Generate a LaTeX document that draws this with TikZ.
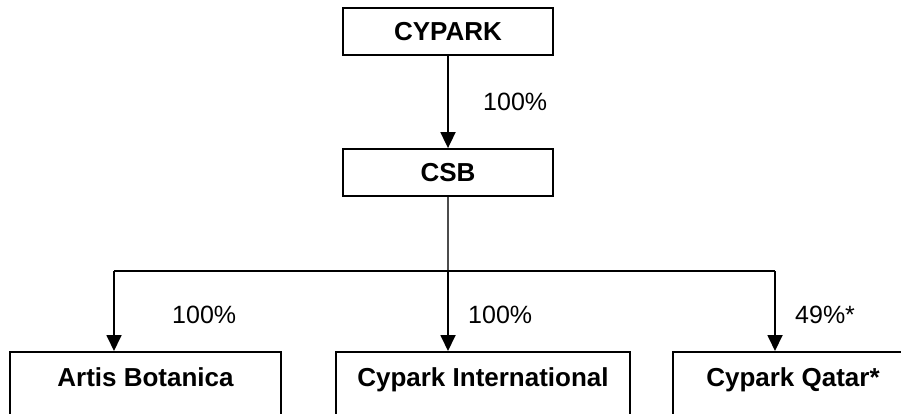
\documentclass[tikz,border=0pt]{standalone}
\usepackage{fontspec}
\setmainfont{Liberation Sans}
\usetikzlibrary{arrows.meta}
\begin{document}
\begin{tikzpicture}[x=1pt,y=-1pt,
  topbox/.style={draw, line width=1.8pt, minimum width=210pt, minimum height=47pt, inner sep=0pt,
    font=\fontsize{26}{30}\selectfont\bfseries},
  botbox/.style={draw, line width=1.8pt, anchor=north, inner ysep=0pt, text height=35pt, text depth=80pt,
    font=\fontsize{26}{30}\selectfont\bfseries},
  pct/.style={anchor=west, inner sep=0pt, font=\fontsize{25}{30}\selectfont},
  conn/.style={line width=1.8pt, -{Triangle[width=15pt,length=16pt]}},
  link/.style={line width=1.8pt},
  thin/.style={line width=1.2pt, black!70}]
\useasboundingbox (0,0) rectangle (901,414);
\clip (0,0) rectangle (901,414);
\fill[white] (0,0) rectangle (901,414);
\node[topbox] (cypark) at (448,31.5) {CYPARK};
\node[topbox] (csb) at (448,172.5) {CSB};
\node[botbox, minimum width=271pt] (artis) at (145.5,351) {Artis Botanica};
\node[botbox, minimum width=294pt] (intl) at (483,351) {Cypark International};
\node[botbox, minimum width=240pt] (qatar) at (793,351) {Cypark Qatar*};
\coordinate (hl) at (114,271);
\coordinate (hm) at (448,271);
\coordinate (hr) at (775,271);
\draw[conn] (cypark.south) -- (csb.north);
\draw[thin] (csb.south) -- (hm);
\draw[link] (hl) -- (hr);
\draw[conn] (hl) -- (hl |- artis.north);
\draw[conn] (hm) -- (hm |- intl.north);
\draw[conn] (hr) -- (hr |- qatar.north);
\node[pct] (p0) at (483,102) {100\%};
\node[pct] (p1) at (172,315) {100\%};
\node[pct] (p2) at (468,315) {100\%};
\node[pct] (p3) at (795,315) {49\%*};
\end{tikzpicture}
\end{document}
